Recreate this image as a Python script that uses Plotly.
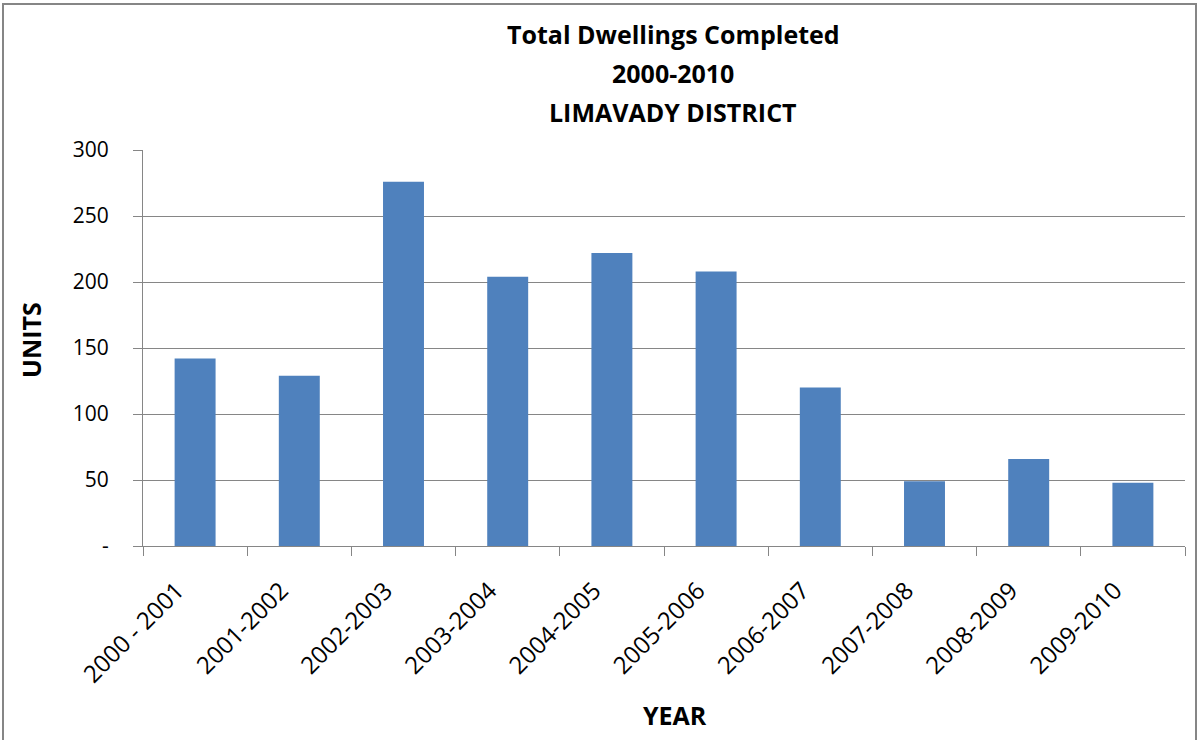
import plotly.graph_objects as go

years = ["2000 - 2001", "2001-2002", "2002-2003", "2003-2004", "2004-2005",
         "2005-2006", "2006-2007", "2007-2008", "2008-2009", "2009-2010"]
units = [142, 129, 276, 204, 222, 208, 120, 49, 66, 48]

y_tickvals = [0, 50, 100, 150, 200, 250, 300]
y_ticktext = ["-", "50", "100", "150", "200", "250", "300"]

title_lines = ["Total Dwellings Completed", "2000-2010", "LIMAVADY DISTRICT"]

W, H = 1198, 740
L, R, T, B = 143, 13, 150, 194
FONT = "Open Sans"

fig = go.Figure(go.Bar(x=years, y=units, marker=dict(color="#4F81BD", line=dict(width=0))))

pw = W - L - R
ph = H - T - B
def px_x(p):
    return (p - L) / pw
def px_y(p):
    return (H - B - p) / ph

title_y_px = [34, 73, 112]
annotations = [
    dict(text=t, xref="paper", yref="paper", x=px_x(673), y=px_y(yp),
         xanchor="center", yanchor="middle", showarrow=False,
         font=dict(family=FONT, size=25, color="black", weight="bold"))
    for t, yp in zip(title_lines, title_y_px)
]
annotations.append(dict(text="YEAR", xref="paper", yref="paper", x=px_x(675), y=px_y(715),
                        xanchor="center", yanchor="middle", showarrow=False,
                        font=dict(family=FONT, size=25, color="black", weight="bold")))
annotations.append(dict(text="UNITS", xref="paper", yref="paper", x=px_x(31), y=px_y(340),
                        xanchor="center", yanchor="middle", showarrow=False, textangle=-90,
                        font=dict(family=FONT, size=25, color="black", weight="bold")))

fig.update_layout(
    width=W, height=H,
    margin=dict(l=L, r=R, t=T, b=B),
    plot_bgcolor="white", paper_bgcolor="white",
    bargap=0.607,
    showlegend=False,
    font=dict(family=FONT, color="black", size=21),
    xaxis=dict(
        tickangle=-45,
        showline=True, linecolor="#868686", linewidth=1,
        ticks="outside", tickcolor="#868686", ticklen=9,
        tickson="boundaries",
        ticklabelstandoff=20, ticklabelshift=-18,
        showgrid=False,
        tickfont=dict(size=24),
    ),
    yaxis=dict(
        range=[0, 300],
        tickvals=y_tickvals, ticktext=y_ticktext,
        showline=True, linecolor="#868686", linewidth=1,
        ticks="outside", tickcolor="#868686", ticklen=9,
        ticklabelstandoff=20,
        showgrid=True, gridcolor="#868686", gridwidth=1,
        zeroline=False,
        tickfont=dict(size=21),
    ),
    annotations=annotations,
    shapes=[dict(
        type="rect", xref="paper", yref="paper",
        x0=px_x(3), x1=px_x(1196), y0=px_y(745), y1=px_y(4),
        line=dict(color="#868686", width=2), fillcolor="rgba(0,0,0,0)", layer="below",
    )],
)

fig.write_html("out.html", config={"displayModeBar": False},
               post_script="document.body.style.margin='0';document.body.style.overflow='hidden';")
